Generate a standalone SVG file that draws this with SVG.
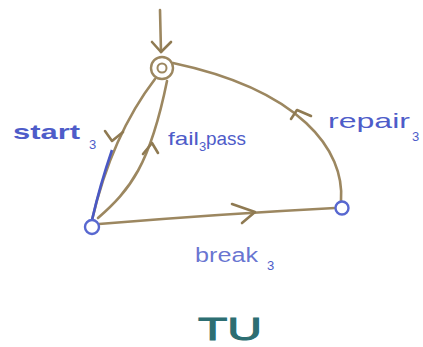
<svg xmlns="http://www.w3.org/2000/svg" width="423" height="347" viewBox="0 0 423 347">
<style>
.edge{fill:none;stroke:#9c8760;stroke-width:2.6;stroke-linecap:round;stroke-linejoin:round}
.head{fill:none;stroke:#8f7a52;stroke-width:2.6;stroke-linecap:round;stroke-linejoin:round}
.lbl{font-family:"Liberation Sans",sans-serif;fill:#4e5cc9}
.sub{font-family:"Liberation Sans",sans-serif;fill:#4e5cc9;font-size:13px}
.node{fill:#fff;stroke-width:2.4}
</style>
<rect width="423" height="347" fill="#fff"/>
<g id="connectors">
  <g id="init"><path class="edge" d="M160,10 L161,52"/><polyline class="head" points="152,42 161,52 171,42"/></g>
  <g id="e-start"><path class="edge" d="M155,79 Q112,135 92,220"/><path d="M112,150 Q100,185 92,220" fill="none" stroke="#4a58c4" stroke-width="2.6"/><polyline class="head" points="105,131 112,141 123,132"/></g>
  <g id="e-fail"><path class="edge" d="M98,218 C130,190 150,165 167,81"/><polyline class="head" points="143,154 152,143 158,153"/></g>
  <g id="e-repair"><path class="edge" d="M341,201 C345,150 300,90 173,63"/><polyline class="head" points="291,119 297,110 311,116"/></g>
  <g id="e-break"><path class="edge" d="M99,224 Q220,214 335,208"/><polyline class="head" points="232,204 255,212 242,223"/></g>
</g>
<g id="n-top"><circle class="node" cx="162" cy="68" r="11" stroke="#9c8760"/><circle cx="162" cy="68" r="4.5" fill="none" stroke="#9c8760" stroke-width="2"/></g>
<g id="n-left"><circle class="node" cx="92" cy="227" r="7" stroke="#5868d0"/></g>
<g id="n-right"><circle class="node" cx="342" cy="208" r="6.5" stroke="#5868d0"/></g>
<g id="labels">
  <text class="lbl" x="13" y="139" font-size="21" font-weight="bold" textLength="67" lengthAdjust="spacingAndGlyphs">start</text><text class="sub" x="89" y="149">3</text>
  <text class="lbl" x="168" y="145" font-size="19" textLength="31" lengthAdjust="spacingAndGlyphs">fail</text><text class="sub" x="199" y="151">3</text><text class="lbl" x="206" y="145" font-size="19" textLength="40" lengthAdjust="spacingAndGlyphs">pass</text>
  <text class="lbl" x="328" y="128" font-size="21" textLength="82" lengthAdjust="spacingAndGlyphs">repair</text><text class="sub" x="412" y="141">3</text>
  <text class="lbl" x="195" y="262" font-size="20" fill-opacity="0.85" textLength="63" lengthAdjust="spacingAndGlyphs">break</text><text class="sub" x="267" y="270">3</text>
  <text x="198" y="340" font-family="Liberation Sans,sans-serif" font-size="32" fill="#2d6e72" stroke="#2d6e72" stroke-width="1" textLength="64" lengthAdjust="spacingAndGlyphs">TU</text>
</g>
</svg>
